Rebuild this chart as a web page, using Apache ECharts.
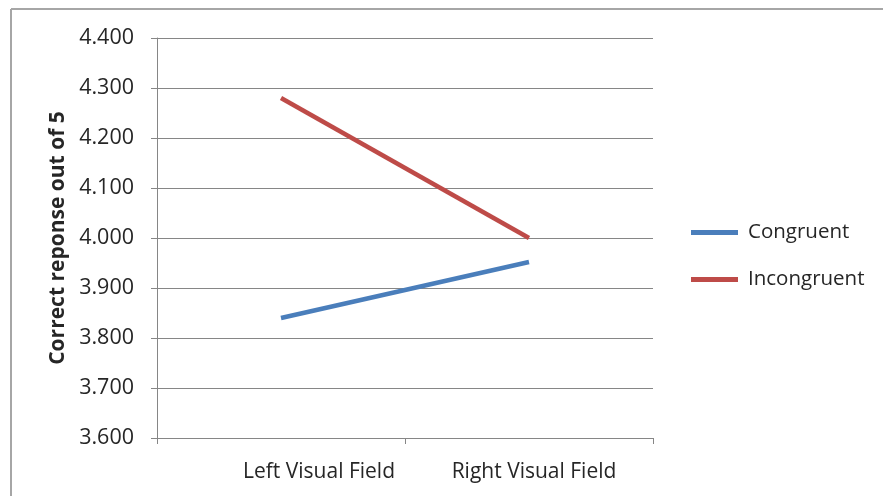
<!DOCTYPE html>
<html>
<head>
<meta charset="utf-8">
<script src="https://cdn.jsdelivr.net/npm/echarts@6/dist/echarts.min.js"></script>
<style>
  html, body { margin: 0; padding: 0; background: #fff; }
  #chart { width: 883px; height: 496px; }
</style>
</head>
<body>
<div id="chart"></div>
<script>
// categories and values
var fields = ['Left Visual Field', 'Right Visual Field'];
var congruent = [3.840, 3.952];
var incongruent = [4.280, 4.000];
var yMin = 3.6, yMax = 4.4, yStep = 0.1;

var txt = '#262626';
var gridCol = '#868686';

// labels in the original sit a bit right of the category centres
var labelPad = [76, 10];
var xData = fields.map(function (f, i) {
  return { value: f, textStyle: { padding: [0, 0, 0, labelPad[i]] } };
});

var chart = echarts.init(document.getElementById('chart'));

chart.setOption({
  animation: false,
  backgroundColor: '#fff',
  textStyle: { fontFamily: 'Open Sans', color: txt },
  grid: { left: 157, top: 38, width: 496, height: 400, containLabel: false },
  legend: {
    orient: 'vertical',
    left: 686,
    top: 217,
    icon: 'rect',
    itemWidth: 47,
    itemHeight: 5,
    itemGap: 26,
    textStyle: { fontFamily: 'Open Sans', fontSize: 20.5, color: txt, padding: [0, 0, 0, 5] },
    data: ['Congruent', 'Incongruent']
  },
  xAxis: {
    type: 'category',
    data: xData,
    boundaryGap: true,
    axisLine: { lineStyle: { color: gridCol, width: 1 } },
    axisTick: { show: true, length: 6, lineStyle: { color: gridCol } },
    axisLabel: { fontFamily: 'Open Sans', fontSize: 21, color: txt, margin: 24 }
  },
  yAxis: {
    type: 'value',
    min: yMin,
    max: yMax,
    interval: yStep,
    name: 'Correct reponse out of 5',
    nameLocation: 'middle',
    nameGap: 88,
    nameTextStyle: { fontFamily: 'Open Sans', fontSize: 21, fontWeight: 'bold', color: txt },
    axisLine: { show: true, lineStyle: { color: gridCol, width: 1 } },
    axisTick: { show: true, length: 6, lineStyle: { color: gridCol } },
    axisLabel: {
      fontFamily: 'Open Sans', fontSize: 21.5, color: txt, margin: 23,
      formatter: function (v) { return v.toFixed(3); }
    },
    splitLine: { show: true, lineStyle: { color: gridCol, width: 1 } }
  },
  series: [
    {
      name: 'Congruent',
      type: 'line',
      data: congruent,
      symbol: 'none',
      color: '#4A7EBB',
      lineStyle: { width: 4.5, color: '#4A7EBB' }
    },
    {
      name: 'Incongruent',
      type: 'line',
      data: incongruent,
      symbol: 'none',
      color: '#BE4B48',
      lineStyle: { width: 4.5, color: '#BE4B48' }
    }
  ],
  graphic: [
    // outer frame (only top and left edges show in the crop)
    { type: 'line', shape: { x1: 11, y1: 9, x2: 883, y2: 9 }, style: { stroke: '#A6A6A6', lineWidth: 2 } },
    { type: 'line', shape: { x1: 11, y1: 9, x2: 11, y2: 496 }, style: { stroke: '#A6A6A6', lineWidth: 2 } }
  ]
});
</script>
</body>
</html>
